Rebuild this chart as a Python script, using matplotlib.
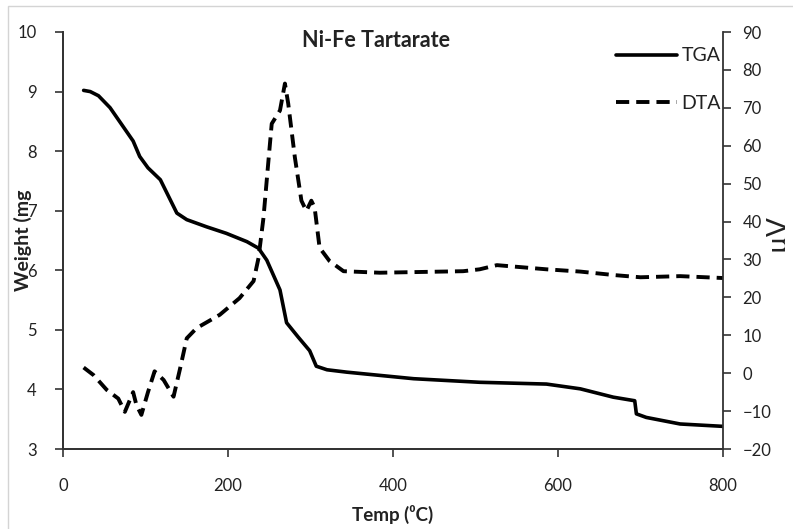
import matplotlib
matplotlib.use("Agg")
import matplotlib.pyplot as plt
from matplotlib.patches import Rectangle
from matplotlib.transforms import Bbox, TransformedBbox

plt.rcParams['font.family'] = ['Lato', 'DejaVu Sans']

# TGA curve (weight, mg)
tga_temp = [25, 33, 43, 57, 71, 85, 93, 103, 118, 128, 138, 150, 174, 198, 223, 237,
            247, 263, 271, 285, 299, 307, 320, 344, 425, 505, 586, 627, 667,
            693, 695, 707, 748, 800]
tga_weight = [9.02, 9.0, 8.93, 8.73, 8.45, 8.17, 7.91, 7.72, 7.52, 7.24, 6.96, 6.85,
              6.73, 6.62, 6.48, 6.37, 6.17, 5.67, 5.12, 4.88, 4.65, 4.39, 4.33,
              4.29, 4.18, 4.12, 4.09, 4.01, 3.87, 3.81, 3.59, 3.53, 3.42, 3.38]

# DTA curve (uV)
dta_temp = [25, 37, 53, 67, 75, 85, 89, 95, 103, 111, 122, 134, 142, 150, 162,
            190, 214, 231, 237, 243, 249, 253, 263, 269, 273, 281, 289, 295,
            301, 305, 311, 323, 340, 384, 485, 505, 526, 586, 627, 667, 700,
            748, 800]
dta_uv = [1.5, -0.5, -4.4, -6.7, -10.2, -5, -8.4, -11, -5, 0.5, -1.8, -6.2, 1.3,
          9.2, 11.9, 15.4, 19.8, 24.3, 30.4, 41, 56, 65.8, 69.3, 76.4, 71.1, 57,
          45.5, 42.8, 45.5, 43.7, 33.1, 29.6, 26.9, 26.5, 26.9, 27.4, 28.5, 27.4,
          26.8, 25.9, 25.3, 25.6, 25.1]

x_ticks = [0, 200, 400, 600, 800]
left_ticks = [3, 4, 5, 6, 7, 8, 9, 10]
right_ticks = [-20, -10, 0, 10, 20, 30, 40, 50, 60, 70, 80, 90]

txt = '#222222'

fig = plt.figure(figsize=(7.93, 5.29), dpi=100)
fig.patches.append(Rectangle((8 / 793, -0.1), 1.2, 1 - 6 / 529 + 0.1,
                             transform=fig.transFigure, fill=False,
                             edgecolor='#d4d4d4', linewidth=1.0))
ax = fig.add_axes([63 / 793, 1 - 449 / 529, 660 / 793, 417 / 529])
ax2 = ax.twinx()

l1, = ax.plot(tga_temp, tga_weight, color='black', lw=2.6, label='TGA',
              solid_joinstyle='round', solid_capstyle='round')
l2, = ax2.plot(dta_temp, dta_uv, color='black', lw=2.8, label='DTA',
               linestyle=(0, (3.4, 1.8)), dash_capstyle='butt')

ax.set_xlim(0, 800)
ax.set_ylim(3, 10)
ax2.set_ylim(-20, 90)
ax.set_xticks(x_ticks)
ax.set_yticks(left_ticks)
ax2.set_yticks(right_ticks)

ax.spines['top'].set_visible(False)
ax2.spines['top'].set_visible(False)
ax.spines['right'].set_visible(False)
for a in (ax, ax2):
    for s in a.spines.values():
        s.set_color('#333333')
        s.set_linewidth(1.3)

ax.tick_params(axis='x', direction='out', length=6, width=1.2, pad=15,
               labelsize=12, labelcolor=txt, color='#333333')
ax.tick_params(axis='y', direction='out', length=6, width=1.2, pad=13,
               labelsize=12, labelcolor=txt, color='#333333')
ax2.tick_params(axis='y', direction='out', length=6, width=1.2, pad=8,
                labelsize=12, labelcolor=txt, color='#333333')

ax.set_xlabel('Temp (⁰C)', fontsize=13.5, fontweight='bold', color=txt, labelpad=8)
ax.yaxis.set_label_coords(-0.047, 0.5)
ax.set_ylabel('Weight (mg', fontsize=14, fontweight='bold', color=txt)

lab = ax2.set_ylabel('µV', fontsize=20, color=txt, rotation=90)
ax2.yaxis.set_label_coords(1.063, 0.52)
lab.set_clip_box(TransformedBbox(Bbox([[0, 0], [785 / 793, 1]]), fig.transFigure))
lab.set_clip_on(True)

ax.text(0.474, 0.98, 'Ni-Fe Tartarate', transform=ax.transAxes,
        fontsize=15.5, fontweight='bold', color=txt, ha='center', va='center')

ax.legend([l1, l2], ['TGA', 'DTA'], loc='upper right',
          bbox_to_anchor=(0.997, 0.963), frameon=False, fontsize=14,
          handlelength=3.1, handletextpad=0.25, labelspacing=1.55,
          borderpad=0, borderaxespad=0, labelcolor=txt)

fig.savefig('out.png', dpi=100)
